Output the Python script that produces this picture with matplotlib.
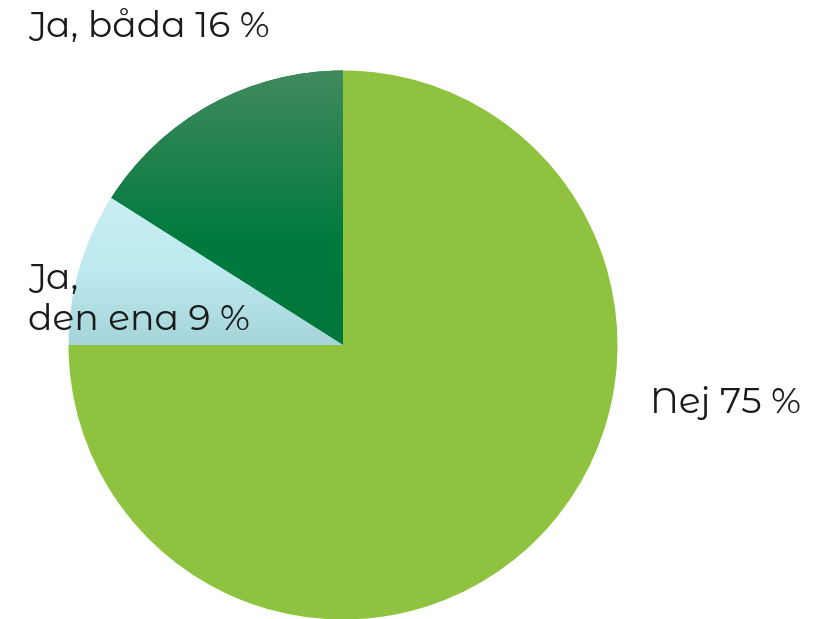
import matplotlib
matplotlib.use("Agg")
import matplotlib.pyplot as plt
import numpy as np
from matplotlib.colors import LinearSegmentedColormap

categories = ["Nej", "Ja, den ena", "Ja, båda"]
values = [75, 9, 16]
label_texts = ["Nej 75 %", "Ja,\nden ena 9 %", "Ja, båda 16 %"]

W, H = 831, 619
fig = plt.figure(figsize=(W / 100, H / 100), dpi=100)
ax = fig.add_axes([0, 0, 1, 1])
ax.set_axis_off()

cx, cy, R = 343, 274, 274.5

wedges, _ = ax.pie(values, startangle=90, counterclock=False, radius=1,
                   colors=["#8fc33f", "#bfeaf0", "#007a3b"],
                   wedgeprops=dict(linewidth=0))

def grad_fill(wedge, stops):
    bb = wedge.get_path().get_extents(wedge.get_transform())
    inv = ax.transData.inverted()
    (x0, y0), (x1, y1) = inv.transform([[bb.x0, bb.y0], [bb.x1, bb.y1]])
    cmap = LinearSegmentedColormap.from_list("g", stops)
    grad = np.linspace(0, 1, 256).reshape(-1, 1)
    im = ax.imshow(grad, cmap=cmap, extent=[x0, x1, y0, y1], aspect="auto",
                   origin="upper", interpolation="bilinear", zorder=2)
    im.set_clip_path(wedge)

ax.set_xlim(-cx / R, (W - cx) / R)
ax.set_ylim(-cy / R, (H - cy) / R)
ax.set_aspect("equal")

# gradient stops from top (0) to bottom (1)
grad_fill(wedges[2], [(0, "#418a5e"), (0.62, "#007a3d"), (1, "#00773a")])
grad_fill(wedges[1], [(0, "#c8eef3"), (0.5, "#bdeaf0"), (1, "#a5d4d9")])

ax.set_xlim(-cx / R, (W - cx) / R)
ax.set_ylim(-cy / R, (H - cy) / R)

fam = ["Montserrat Alternates", "Open Sans", "DejaVu Sans"]
fs = 26
kw = dict(fontsize=fs, family=fam, fontweight="normal", color="#1a1a1a", va="baseline")
fig.text(28 / W, 1 - 37 / H, label_texts[2], **kw)
fig.text(28 / W, 1 - 330 / H, label_texts[1], linespacing=1.25, **kw)
fig.text(650 / W, 1 - 413 / H, label_texts[0], **kw)

fig.savefig("out.png", dpi=100)
